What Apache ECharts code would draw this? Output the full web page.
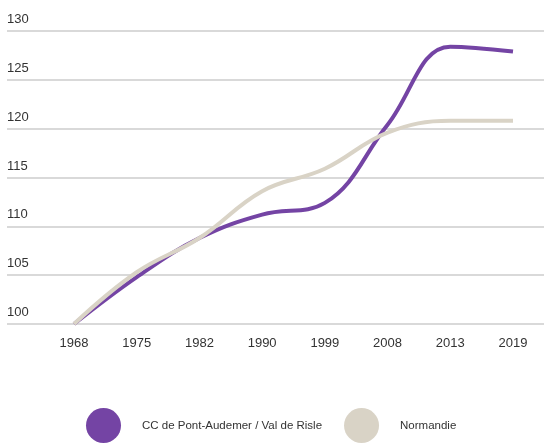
<!DOCTYPE html>
<html>
<head>
<meta charset="utf-8">
<script src="https://cdn.jsdelivr.net/npm/echarts@6/dist/echarts.min.js"></script>
<style>
  html, body { margin: 0; padding: 0; background: #fff; }
  #chart { width: 544px; height: 445px; }
</style>
</head>
<body>
<div id="chart"></div>
<script>
var years = ['1968', '1975', '1982', '1990', '1999', '2008', '2013', '2019'];
var ccValues = [100, 104.8, 108.8, 111.2, 112.4, 120.4, 128.4, 127.9];
var normValues = [100, 105.3, 108.8, 113.6, 115.9, 119.6, 120.8, 120.8];
var seriesNames = ['CC de Pont-Audemer / Val de Risle', 'Normandie'];
var colors = ['#7444a4', '#d9d3c6'];

var font = '"Liberation Sans", Arial, sans-serif';

var myChart = echarts.init(document.getElementById('chart'));

var option = {
    backgroundColor: '#fff',
    animation: false,
    // grid 0 only carries the long grid lines and y labels,
    // grid 1 holds the lines so 1968 / 2019 sit inside
    grid: [
        { left: 7, right: 0, top: 31, height: 293 },
        { left: 74, right: 31, top: 31, height: 293 }
    ],
    xAxis: [
        { gridIndex: 0, type: 'value', show: false, min: 0, max: 1 },
        {
            gridIndex: 1,
            type: 'category',
            data: years,
            boundaryGap: false,
            axisLine: { show: false },
            axisTick: { show: false },
            axisLabel: { color: '#333', fontSize: 13, fontFamily: font, margin: 13 }
        }
    ],
    yAxis: [
        {
            gridIndex: 0,
            type: 'value',
            min: 100,
            max: 130,
            interval: 5,
            axisLine: { show: false },
            axisTick: { show: false },
            splitLine: { lineStyle: { color: '#d9d9d9', width: 2 } },
            axisLabel: {
                inside: true,
                margin: 0,
                verticalAlign: 'bottom',
                padding: [0, 0, 5, 0],
                color: '#333',
                fontSize: 13,
                fontFamily: font
            }
        },
        { gridIndex: 1, type: 'value', min: 100, max: 130, show: false }
    ],
    legend: {
        left: 81,
        top: 403,
        itemWidth: 35,
        itemHeight: 35,
        itemGap: 22,
        icon: 'circle',
        data: seriesNames,
        textStyle: { color: '#333', fontSize: 11.5, fontFamily: font, padding: [0, 0, 0, 16] }
    },
    series: [
        {
            name: seriesNames[1],
            type: 'line',
            xAxisIndex: 1,
            yAxisIndex: 1,
            data: normValues,
            smooth: 0.4,
            symbol: 'none',
            color: colors[1],
            lineStyle: { width: 4, color: colors[1] },
            z: 2
        },
        {
            name: seriesNames[0],
            type: 'line',
            xAxisIndex: 1,
            yAxisIndex: 1,
            data: ccValues,
            smooth: 0.4,
            symbol: 'none',
            color: colors[0],
            lineStyle: { width: 4, color: colors[0] },
            z: 1
        }
    ]
};

myChart.setOption(option);
</script>
</body>
</html>
